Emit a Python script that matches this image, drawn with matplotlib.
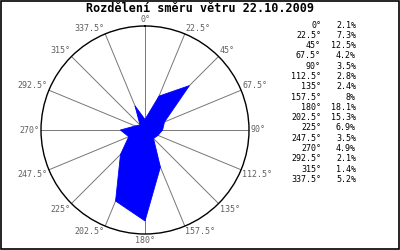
import numpy as np
import matplotlib.pyplot as plt

# wind direction distribution, 22.10.2009
directions = [0, 22.5, 45, 67.5, 90, 112.5, 135, 157.5,
              180, 202.5, 225, 247.5, 270, 292.5, 315, 337.5]
percent = [2.1, 7.3, 12.5, 4.2, 3.5, 2.8, 2.4, 8,
           18.1, 15.3, 6.9, 3.5, 4.9, 2.1, 1.4, 5.2]
title = 'Rozdělení směru větru 22.10.2009'

mono = 'DejaVu Sans Mono'
grey = '#606060'

fig = plt.figure(figsize=(4, 2.5), dpi=100)
fig.patch.set_facecolor('white')

# polar area, centre ~ (145,130) px, radius ~104 px
ax = fig.add_axes([0.1025, 0.064, 0.52, 0.832], projection='polar')
ax.set_theta_zero_location('N')
ax.set_theta_direction(-1)

theta = np.deg2rad(directions)
th = np.append(theta, theta[0])
r = np.append(percent, percent[0])
ax.fill(th, r, color='#0000ff', lw=0.6, ec='#0000ff', zorder=3)

ax.set_ylim(0, 20.7)
ax.set_yticks([])
ax.set_xticks(theta)
ax.set_xticklabels([])
ax.xaxis.grid(True, color='#777777', lw=0.7)
ax.spines['polar'].set_color('black')
ax.spines['polar'].set_linewidth(1.0)

# direction labels just outside the circle
for d, t in zip(directions, theta):
    s = np.sin(t)
    c = np.cos(t)
    ha = 'center' if abs(s) < 0.2 else ('left' if s > 0 else 'right')
    va = 'center' if abs(c) < 0.2 else ('bottom' if c > 0 else 'top')
    lab = ('%g' % d) + '°'
    ax.text(t, 21.0, lab, ha=ha, va=va, fontsize=6, family=mono,
            color=grey, clip_on=False)

fig.text(0.5, 0.966, title, ha='center', va='center', fontsize=8.5,
         family=mono, weight='bold', color='black')

# legend list on the right
y0 = 1 - 25 / 250.0
dy = 10.3 / 250.0
for i, (d, p) in enumerate(zip(directions, percent)):
    y = y0 - i * dy
    fig.text(321 / 400.0, y, ('%g' % d) + '°', ha='right', va='center',
             fontsize=6, family=mono, color='black')
    fig.text(356 / 400.0, y, ('%g' % p) + '%', ha='right', va='center',
             fontsize=6, family=mono, color='black')

# figure frame
fig.add_artist(plt.Rectangle((0.0015, 0.0025), 0.997, 0.995,
                             transform=fig.transFigure, fill=False,
                             ec='black', lw=1.2))

fig.savefig('out.png', dpi=100)
